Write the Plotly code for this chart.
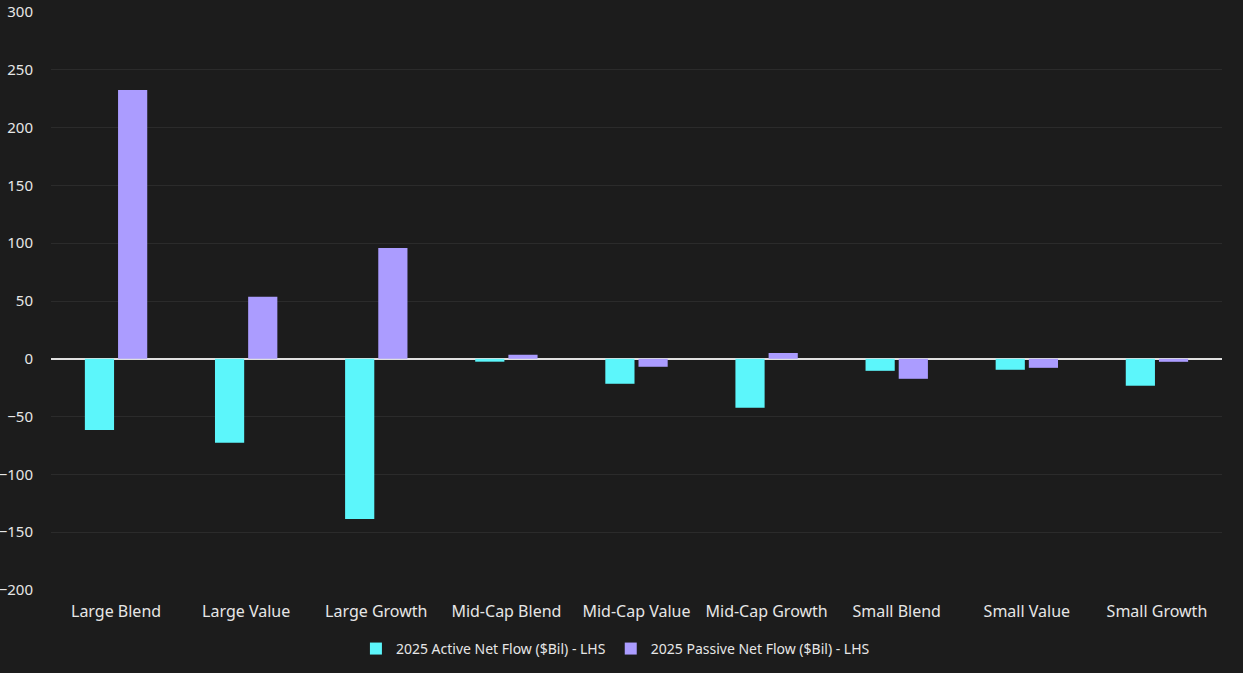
import plotly.graph_objects as go

categories = ["Large Blend", "Large Value", "Large Growth", "Mid-Cap Blend", "Mid-Cap Value",
              "Mid-Cap Growth", "Small Blend", "Small Value", "Small Growth"]
active = [-61.5, -72.6, -138.5, -2.5, -21.6, -42.3, -10.4, -9.5, -23.3]
passive = [232.5, 53.6, 95.9, 3.5, -6.9, 5.0, -17.3, -7.8, -2.6]
yticks = [-200, -150, -100, -50, 0, 50, 100, 150, 200, 250, 300]

BG = "#1c1c1c"
TXT = "#e6e6e6"
FONT = "Noto Sans, Lato, sans-serif"

fig = go.Figure()
fig.add_trace(go.Bar(x=categories, y=active, name="2025 Active Net Flow ($Bil) - LHS",
                     marker=dict(color="#5cf6fb", line=dict(width=0))))
fig.add_trace(go.Bar(x=categories, y=passive, name="2025 Passive Net Flow ($Bil) - LHS",
                     marker=dict(color="#ab9cff", line=dict(width=0))))

fig.update_layout(
    width=1243, height=673,
    paper_bgcolor=BG, plot_bgcolor=BG,
    margin=dict(l=51, r=21, t=12, b=83, autoexpand=False),
    barmode="group", bargap=0.49, bargroupgap=0.12,
    font=dict(family=FONT, color=TXT, size=15),
    showlegend=True,
    legend=dict(orientation="h", x=0.482, xanchor="center", y=-0.102, yanchor="middle",
                font=dict(size=14, color=TXT), bgcolor="rgba(0,0,0,0)",
                itemwidth=30, traceorder="normal"),
    xaxis=dict(showgrid=False, showline=False, ticks="", automargin=False,
               tickfont=dict(size=16, color=TXT), ticklabelstandoff=10),
    yaxis=dict(range=[-200, 300], tickvals=yticks, showgrid=True, gridcolor="#2b2b2b",
               gridwidth=1, zeroline=True, zerolinecolor="#e0e0e0", zerolinewidth=2,
               ticks="", automargin=False, tickfont=dict(size=15, color=TXT),
               ticklabelstandoff=17),
)

fig.write_html("out.html", config={"displayModeBar": False},
               post_script="document.body.style.margin='0';document.body.style.background='#1c1c1c';")
